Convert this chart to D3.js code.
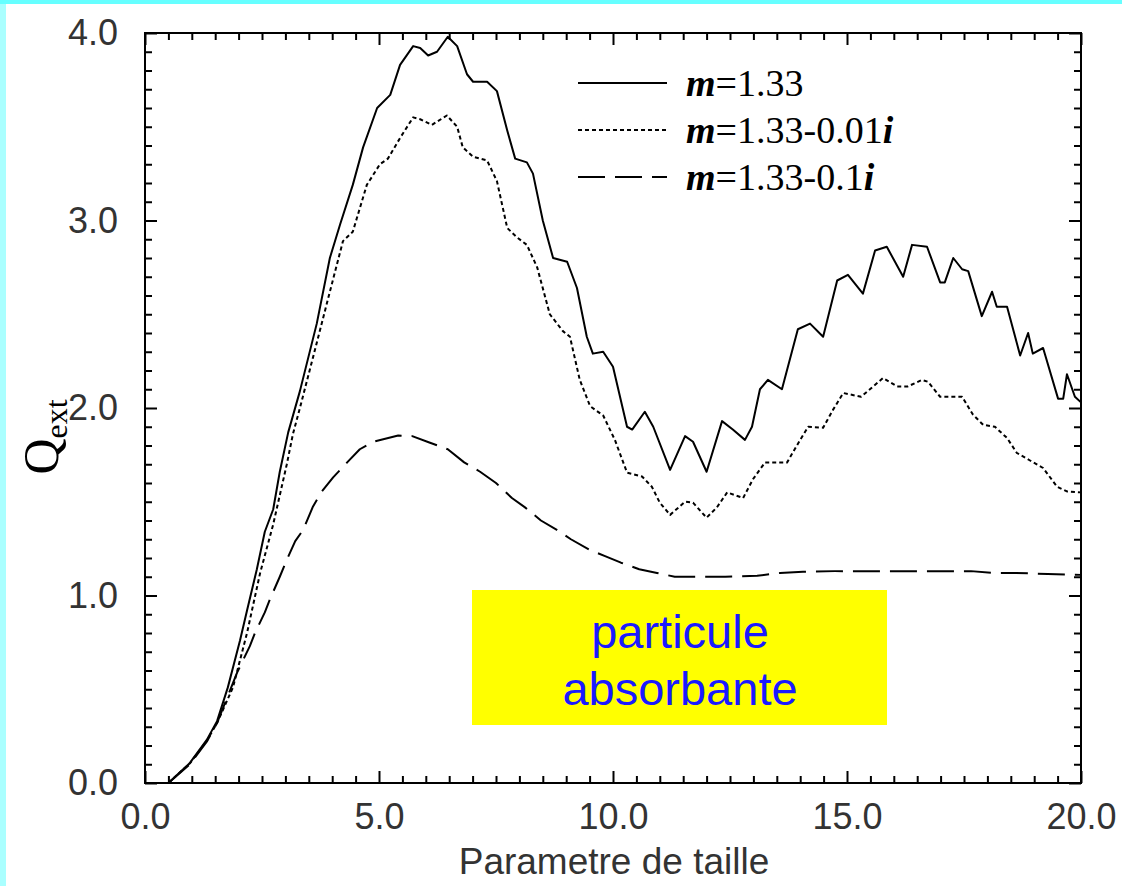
<!DOCTYPE html>
<html><head><meta charset="utf-8">
<script src="https://cdn.jsdelivr.net/npm/d3@7"></script>
<style>html,body{margin:0;padding:0;background:#fff;}svg{display:block;}</style>
</head><body>
<script>
// ---- data ----
const solidX = [0.5,0.96,1.32,1.54,1.77,2.03,2.18,2.39,2.56,2.74,2.88,3.06,3.31,3.67,3.95,4.17,4.44,4.66,4.96,5.24,5.45,5.73,5.88,6.05,6.24,6.47,6.67,6.88,7.01,7.31,7.52,7.74,7.91,8.16,8.29,8.50,8.72,9.02,9.23,9.44,9.57,9.79,10.0,10.30,10.41,10.68,10.86,11.22,11.54,11.71,12.0,12.33,12.56,12.82,12.97,13.14,13.31,13.61,13.95,14.21,14.49,14.79,15.02,15.34,15.60,15.85,16.20,16.39,16.71,16.99,17.09,17.27,17.46,17.59,17.88,18.10,18.20,18.42,18.70,18.87,18.97,19.19,19.51,19.62,19.70,19.87,20.0];
const solidY = [0.0,0.107,0.23,0.33,0.51,0.76,0.92,1.14,1.34,1.46,1.66,1.87,2.09,2.45,2.80,2.98,3.19,3.39,3.60,3.67,3.83,3.93,3.92,3.88,3.90,3.98,3.93,3.78,3.74,3.74,3.69,3.48,3.33,3.31,3.25,3.00,2.80,2.78,2.64,2.38,2.29,2.30,2.22,1.90,1.885,1.98,1.90,1.67,1.85,1.82,1.66,1.93,1.885,1.83,1.90,2.10,2.15,2.10,2.42,2.45,2.38,2.68,2.71,2.61,2.84,2.86,2.70,2.87,2.86,2.67,2.67,2.80,2.74,2.73,2.49,2.62,2.54,2.54,2.28,2.40,2.29,2.32,2.05,2.05,2.18,2.06,2.03];

const dotX = [0.5,0.96,1.32,1.54,1.88,2.18,2.46,2.74,3.03,3.16,3.31,3.59,3.95,4.23,4.44,4.74,5.02,5.19,5.45,5.73,5.88,6.13,6.45,6.67,6.79,7.01,7.31,7.52,7.74,7.95,8.16,8.38,8.65,8.93,9.08,9.29,9.51,9.79,10.04,10.30,10.62,10.83,11.0,11.22,11.54,11.71,12.0,12.22,12.44,12.78,12.99,13.25,13.72,14.0,14.17,14.49,14.70,14.92,15.30,15.49,15.77,16.07,16.30,16.60,16.73,16.99,17.46,17.69,17.91,18.16,18.42,18.63,18.91,19.19,19.49,19.70,20.0];
const dotY = [0.0,0.105,0.225,0.32,0.51,0.80,1.12,1.38,1.70,1.86,2.00,2.27,2.62,2.89,2.94,3.19,3.30,3.33,3.44,3.55,3.54,3.51,3.56,3.50,3.39,3.34,3.32,3.21,2.96,2.91,2.87,2.75,2.50,2.41,2.38,2.15,2.01,1.96,1.83,1.655,1.635,1.58,1.495,1.43,1.50,1.495,1.415,1.47,1.55,1.52,1.62,1.71,1.71,1.83,1.90,1.895,1.99,2.08,2.06,2.10,2.16,2.115,2.115,2.15,2.14,2.06,2.06,1.965,1.91,1.90,1.84,1.76,1.72,1.68,1.58,1.555,1.55];

const dashX = [0.5,0.96,1.32,1.54,1.97,2.24,2.35,2.56,2.67,2.88,3.03,3.21,3.38,3.59,3.78,4.02,4.32,4.59,4.87,5.41,5.71,6.09,6.47,6.82,7.16,7.50,7.84,8.12,8.46,8.80,9.10,9.49,9.83,10.17,10.56,10.94,11.32,11.82,12.4,13.08,13.57,14.06,14.74,15.71,16.67,17.65,18.14,18.6,19.29,20.0];
const dashY = [0.0,0.10,0.22,0.32,0.59,0.73,0.80,0.91,0.98,1.10,1.19,1.29,1.35,1.475,1.555,1.63,1.71,1.78,1.82,1.853,1.85,1.815,1.78,1.71,1.66,1.60,1.52,1.47,1.40,1.35,1.30,1.245,1.21,1.175,1.14,1.12,1.10,1.10,1.10,1.105,1.12,1.127,1.13,1.13,1.13,1.13,1.12,1.12,1.115,1.11];

const seriesNames = ["1.33", "1.33-0.01", "1.33-0.1"];
const xTickLabels = [0, 5, 10, 15, 20];
const yTickLabels = [0, 1, 2, 3, 4];
const xLabel = "Parametre de taille";
const boxLines = ["particule", "absorbante"];

// ---- layout ----
const W = 1122, H = 886;
const svg = d3.select("body").append("svg").attr("width", W).attr("height", H);
svg.append("rect").attr("width", W).attr("height", H).attr("fill", "#66ffff");
svg.append("rect").attr("x", 0).attr("y", 4).attr("width", 6).attr("height", H).attr("fill", "#aaffff");
svg.append("rect").attr("x", 6).attr("y", 4).attr("width", W - 6).attr("height", H - 4).attr("fill", "#ffffff");

const x = d3.scaleLinear().domain([0, 20]).range([145, 1081]);
const y = d3.scaleLinear().domain([0, 4]).range([783, 33]);
const L = 145, R = 1081, T = 33, B = 783;

const tickFont = "'Liberation Sans', Arial, sans-serif";
const minorX = d3.range(0, 20.001, 0.5).filter(v => Math.abs(v % 5) > 1e-6);
const minorY = d3.range(0, 4.0001, 0.1).map(v => +v.toFixed(1)).filter(v => Math.abs(v - Math.round(v)) > 1e-6);

function styleAxis(g) {
  g.select(".domain").remove();
  g.selectAll(".tick line").attr("stroke", "#000").attr("stroke-width", 2);
  g.selectAll(".tick text").attr("fill", "#333").style("font-family", tickFont).style("font-size", "36px");
}
// bottom
svg.append("g").attr("transform", `translate(0,${B})`)
  .call(d3.axisBottom(x).tickValues(minorX).tickSize(-7).tickFormat("")).call(styleAxis);
svg.append("g").attr("transform", `translate(0,${B})`)
  .call(d3.axisBottom(x).tickValues(xTickLabels).tickSize(-12).tickPadding(20).tickFormat(d3.format(".1f"))).call(styleAxis);
// top
svg.append("g").attr("transform", `translate(0,${T})`)
  .call(d3.axisTop(x).tickValues(minorX).tickSize(-7).tickFormat("")).call(styleAxis);
svg.append("g").attr("transform", `translate(0,${T})`)
  .call(d3.axisTop(x).tickValues(xTickLabels).tickSize(-12).tickFormat("")).call(styleAxis);
// left
svg.append("g").attr("transform", `translate(${L},0)`)
  .call(d3.axisLeft(y).tickValues(minorY).tickSize(-7).tickFormat("")).call(styleAxis);
svg.append("g").attr("transform", `translate(${L},0)`)
  .call(d3.axisLeft(y).tickValues(yTickLabels).tickSize(-12).tickPadding(27).tickFormat(d3.format(".1f"))).call(styleAxis);
// right
svg.append("g").attr("transform", `translate(${R},0)`)
  .call(d3.axisRight(y).tickValues(minorY).tickSize(-7).tickFormat("")).call(styleAxis);
svg.append("g").attr("transform", `translate(${R},0)`)
  .call(d3.axisRight(y).tickValues(yTickLabels).tickSize(-12).tickFormat("")).call(styleAxis);

// frame
svg.append("rect").attr("x", L).attr("y", T).attr("width", R - L).attr("height", B - T)
  .attr("fill", "none").attr("stroke", "#000").attr("stroke-width", 2);

// curves
const line = d3.line().x(d => x(d[0])).y(d => y(d[1]));
const series = [
  { xs: solidX, ys: solidY, dash: null, w: 2 },
  { xs: dotX, ys: dotY, dash: "4,3", w: 2 },
  { xs: dashX, ys: dashY, dash: "27,10", w: 2 }
];
series.forEach(s => {
  svg.append("path").datum(s.xs.map((v, i) => [v, s.ys[i]]))
    .attr("d", line).attr("fill", "none").attr("stroke", "#000")
    .attr("stroke-width", s.w).attr("stroke-dasharray", s.dash)
    .attr("stroke-linejoin", "round");
});

// legend
const legY = [83, 130, 177];
series.forEach((s, i) => {
  svg.append("line").attr("x1", 578).attr("x2", 667).attr("y1", legY[i]).attr("y2", legY[i])
    .attr("stroke", "#000").attr("stroke-width", 2).attr("stroke-dasharray", s.dash);
  const t = svg.append("text").attr("x", 686).attr("y", legY[i] + 13)
    .style("font-family", "'Liberation Serif', 'Times New Roman', serif").style("font-size", "38px").attr("fill", "#000");
  t.append("tspan").attr("font-weight", "bold").attr("font-style", "italic").text("m");
  t.append("tspan").text("=" + seriesNames[i]);
  if (i > 0) t.append("tspan").attr("font-weight", "bold").attr("font-style", "italic").text("i");
});

// axis labels
svg.append("text").attr("x", 614).attr("y", 874).attr("text-anchor", "middle")
  .style("font-family", tickFont).style("font-size", "37px").attr("fill", "#333").text(xLabel);

const yl = svg.append("text").attr("transform", "translate(58,437) rotate(-90)").attr("text-anchor", "middle")
  .style("font-family", "'Liberation Serif', 'Times New Roman', serif").attr("fill", "#000");
yl.append("tspan").style("font-size", "50px").text("Q");
yl.append("tspan").style("font-size", "32px").attr("dy", 9).text("ext");

// yellow box
svg.append("rect").attr("x", 472).attr("y", 590).attr("width", 415).attr("height", 135).attr("fill", "#ffff00");
boxLines.forEach((t, i) => {
  svg.append("text").attr("x", 680).attr("y", 648 + i * 57).attr("text-anchor", "middle")
    .style("font-family", tickFont).style("font-size", "47px").attr("fill", "#1a1aff").text(t);
});
</script>
</body></html>
